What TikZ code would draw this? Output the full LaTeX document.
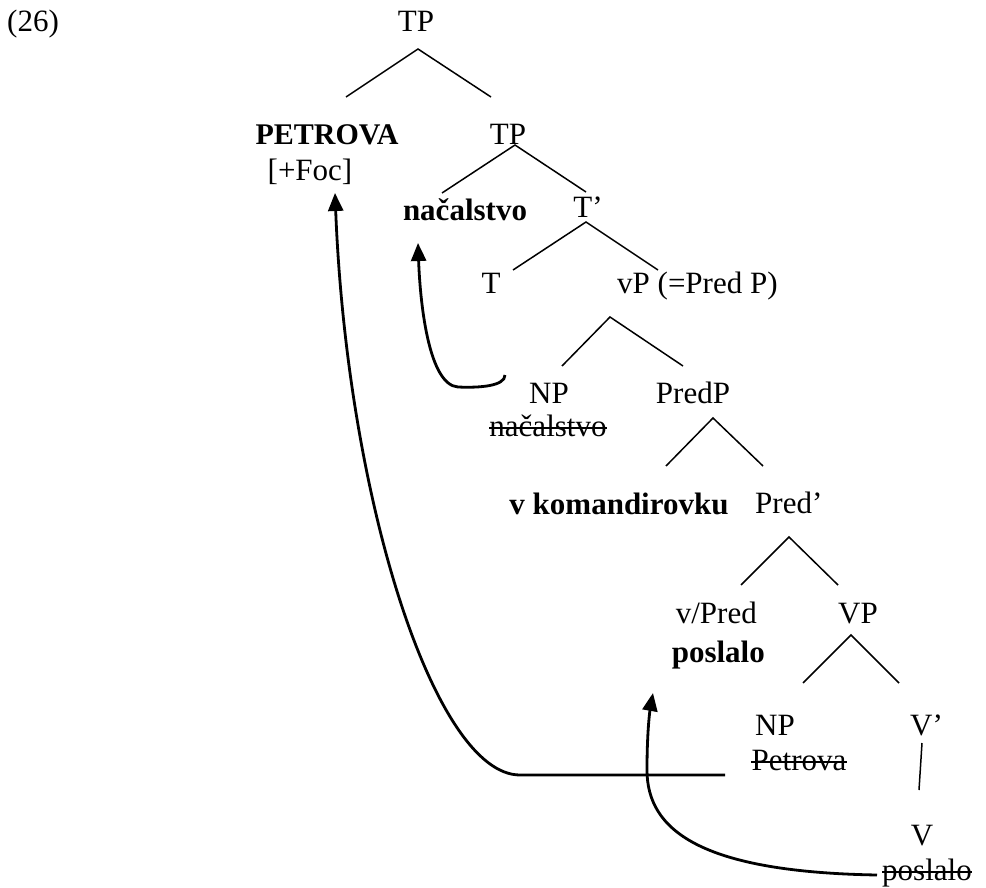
\documentclass[tikz,border=0pt]{standalone}
\usepackage{fontspec}
\setmainfont{Liberation Serif}
\usetikzlibrary{arrows.meta}
\begin{document}
\begin{tikzpicture}[x=1pt,y=-1pt,
  lbl/.style={inner sep=0pt,anchor=base,font=\fontsize{31}{37}\selectfont},
  blbl/.style={lbl,font=\fontsize{31}{37}\selectfont\bfseries},
  branch/.style={line width=1.5pt},
  strike/.style={line width=1.5pt},
  mv/.style={line width=2.8pt,-{Triangle[length=18pt,width=15pt]}}]
\useasboundingbox (0,0) rectangle (986,888);

% example number
\node[lbl,anchor=base west] (ex) at (7,32) {(26)};

% labels of the tree
\node[lbl] (tp1) at (416,32) {TP};
\node[lbl,font=\fontsize{30}{36}\selectfont\bfseries] (petrova) at (327,145) {PETROVA};
\node[lbl] (foc) at (310,181) {[+Foc]};
\node[lbl] (tp2) at (508,145) {TP};
\node[blbl] (nac) at (465,220) {načalstvo};
\node[lbl] (tbar) at (588,218) {T’};
\node[lbl] (t) at (491,293) {T};
\node[lbl,anchor=base west] (vp) at (617,293) {vP (=Pred P)};
\node[lbl] (np1) at (549,403) {NP};
\node[lbl] (nactr) at (548,436) {načalstvo};
\node[lbl] (predp) at (693,403) {PredP};
\node[blbl] (vkom) at (619,514) {v komandirovku};
\node[lbl,anchor=base west] (predbar) at (755,513) {Pred’};
\node[lbl,anchor=base east] (vpred) at (757,623) {v/Pred};
\node[blbl,anchor=base east] (posl) at (765,662) {poslalo};
\node[lbl] (VP) at (858,623) {VP};
\node[lbl] (np2) at (775,735) {NP};
\node[lbl] (petr) at (799,770) {Petrova};
\node[lbl,anchor=base west] (vbar) at (910,735) {V’};
\node[lbl] (v) at (922,845) {V};
\node[lbl,anchor=base west] (posltr) at (882,880) {poslalo};

% struck-out copies
\draw[strike] ([yshift=8pt]nactr.base west) -- ([yshift=8pt]nactr.base east);
\draw[strike] ([yshift=8pt]petr.base west) -- ([yshift=8pt]petr.base east);
\draw[strike] ([yshift=8pt]posltr.base west) -- ([yshift=8pt]posltr.base east);

% branch points
\coordinate (a1) at (418,49);  \coordinate (a1l) at (346,97);  \coordinate (a1r) at (491,97);
\coordinate (a2) at (515,145); \coordinate (a2l) at (442,193); \coordinate (a2r) at (586,192);
\coordinate (a3) at (586,222); \coordinate (a3l) at (513,270); \coordinate (a3r) at (658,270);
\coordinate (a4) at (610,317); \coordinate (a4l) at (562,366); \coordinate (a4r) at (683,366);
\coordinate (a5) at (713,418); \coordinate (a5l) at (666,466); \coordinate (a5r) at (763,466);
\coordinate (a6) at (789,537); \coordinate (a6l) at (741,585); \coordinate (a6r) at (838,585);
\coordinate (a7) at (851,635); \coordinate (a7l) at (803,683); \coordinate (a7r) at (899,683);
\coordinate (a8) at (922,743); \coordinate (a8b) at (919,790);

\draw[branch] (a1l) -- (a1) -- (a1r);
\draw[branch] (a2l) -- (a2) -- (a2r);
\draw[branch] (a3l) -- (a3) -- (a3r);
\draw[branch] (a4l) -- (a4) -- (a4r);
\draw[branch] (a5l) -- (a5) -- (a5r);
\draw[branch] (a6l) -- (a6) -- (a6r);
\draw[branch] (a7l) -- (a7) -- (a7r);
\draw[branch] (a8) -- (a8b);

% movement arrows
\coordinate (m1s) at (725,775);  \coordinate (m1t) at (335,193);
\coordinate (m2s) at (877,875);  \coordinate (m2t) at (653,693);
\coordinate (m3s) at (505,375);  \coordinate (m3t) at (418,243);

\draw[mv] (m1s) -- (520,775) .. controls (435,775) and (347,500) .. (m1t);
\draw[mv] (m2s) .. controls (700,872) and (647,830) .. (647,770)
          .. controls (647,730) and (650,710) .. (m2t);
\draw[mv] (m3s) .. controls (505,386) and (480,388) .. (458,387)
          .. controls (428,385) and (420,300) .. (m3t);
\end{tikzpicture}
\end{document}
